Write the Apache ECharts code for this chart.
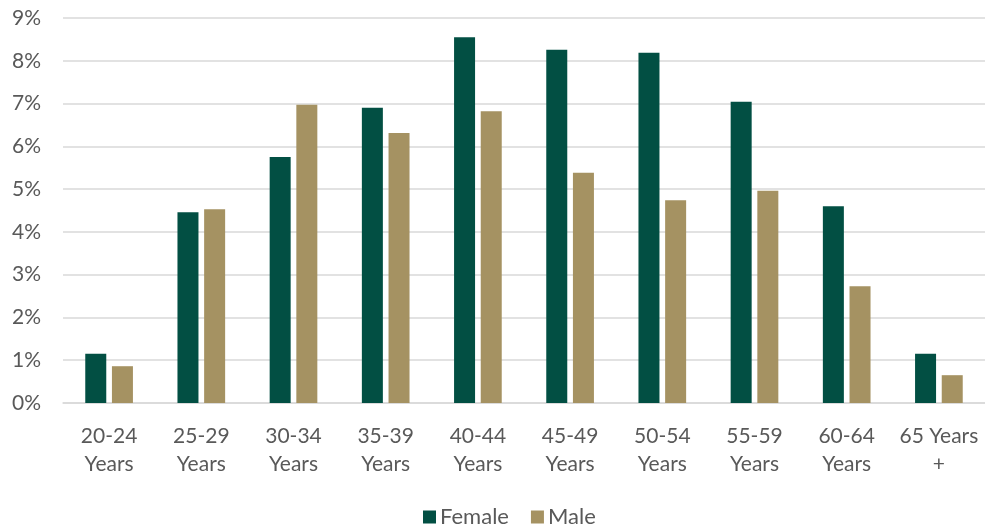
<!DOCTYPE html>
<html>
<head>
<meta charset="utf-8">
<script src="https://cdn.jsdelivr.net/npm/echarts@6/dist/echarts.min.js"></script>
<style>
html,body{margin:0;padding:0;background:#fff;}
#chart{width:985px;height:529px;}
</style>
</head>
<body>
<div id="chart"></div>
<script>
const categories = ['20-24\nYears','25-29\nYears','30-34\nYears','35-39\nYears','40-44\nYears','45-49\nYears','50-54\nYears','55-59\nYears','60-64\nYears','65 Years\n+'];
const female = [1.15, 4.46, 5.75, 6.90, 8.55, 8.26, 8.19, 7.04, 4.60, 1.15];
const male = [0.86, 4.53, 6.97, 6.31, 6.82, 5.38, 4.74, 4.96, 2.73, 0.65];
const seriesNames = ['Female', 'Male'];

const FONT = 'Lato';
const chart = echarts.init(document.getElementById('chart'), null, {renderer: 'canvas'});
chart.setOption({
  animation: false,
  backgroundColor: '#ffffff',
  grid: {left: 63, right: 0, top: 18, bottom: 126, containLabel: false},
  legend: {
    data: seriesNames,
    top: 506,
    left: 423,
    padding: 0,
    itemWidth: 13,
    itemHeight: 13,
    itemGap: 22,
    icon: 'rect',
    textStyle: {fontFamily: FONT, fontSize: 22, color: '#595959', padding: [0,0,0,-1]}
  },
  xAxis: {
    type: 'category',
    data: categories,
    axisLine: {show: true, lineStyle: {color: '#d9d9d9', width: 1.5}},
    axisTick: {show: false},
    axisLabel: {fontFamily: FONT, fontSize: 21, color: '#595959', margin: 19, lineHeight: 28, interval: 0}
  },
  yAxis: {
    type: 'value',
    min: 0,
    max: 9,
    interval: 1,
    axisLine: {show: false},
    axisTick: {show: false},
    axisLabel: {fontFamily: FONT, fontSize: 21, color: '#595959', margin: 22, formatter: '{value}%'},
    splitLine: {lineStyle: {color: '#d9d9d9', width: 1.5}}
  },
  series: [
    {name: seriesNames[0], type: 'bar', data: female, barWidth: 21, barGap: '27%',
     itemStyle: {color: '#024f43'}},
    {name: seriesNames[1], type: 'bar', data: male, barWidth: 21,
     itemStyle: {color: '#a59262'}}
  ]
});
</script>
</body>
</html>
